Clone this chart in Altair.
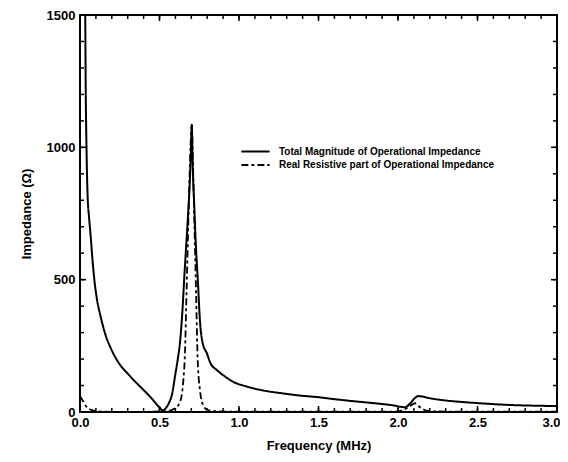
import altair as alt
import pandas as pd

# Total magnitude of operational impedance (solid)
freq_total = [0.030, 0.033, 0.036, 0.040, 0.044, 0.048, 0.057, 0.067, 0.080, 0.092, 0.105,
              0.13, 0.157, 0.199, 0.25, 0.30, 0.35, 0.40, 0.45, 0.50, 0.522,
              0.54, 0.56, 0.58, 0.597, 0.615, 0.63, 0.645, 0.656, 0.668, 0.68,
              0.692, 0.698, 0.703, 0.707, 0.711, 0.718, 0.725, 0.732, 0.74, 0.755,
              0.772, 0.797, 0.82, 0.86, 0.91, 0.964, 1.05, 1.174, 1.28, 1.384,
              1.5, 1.593, 1.70, 1.803, 1.887, 1.97, 2.044, 2.08, 2.105, 2.128,
              2.2, 2.306, 2.4, 2.516, 2.62, 2.725, 2.85, 2.956, 3.0]
mag_total = [1750, 1500, 1220, 1030, 900, 815, 735, 665, 565, 490, 432,
             360, 298, 234, 180, 145, 113, 83, 52, 17, 6,
             15, 35, 70, 133, 200, 270, 390, 510, 630, 750,
             889, 990, 1085, 990, 889, 790, 680, 590, 510, 340,
             259, 223, 185, 159, 135, 114, 96, 79, 70, 62,
             56, 49, 42, 36, 31, 25, 18, 35, 52, 60,
             52, 43, 38, 33, 29, 26, 24, 23, 23]

# Real resistive part of operational impedance (dash-dot)
freq_real = [0.0, 0.02, 0.04, 0.07, 0.10, 0.15, 0.3, 0.45, 0.55, 0.60,
             0.63, 0.65, 0.66, 0.67, 0.685, 0.695, 0.703, 0.71, 0.72, 0.73,
             0.74, 0.755, 0.775, 0.80, 0.85, 1.0, 1.5, 1.9, 2.0, 2.033,
             2.07, 2.107, 2.13, 2.149, 2.18, 2.25, 2.5, 3.0]
mag_real = [60, 40, 20, 8, 3, 1, 0, 1, 4, 15,
            40, 120, 220, 450, 800, 1000, 1085, 950, 700, 450,
            200, 80, 25, 8, 3, 1, 1, 1, 2, 8,
            20, 33, 22, 14, 5, 2, 1, 1]

series_names = ["Total Magnitude of Operational Impedance",
                "Real Resistive part of Operational Impedance"]

x_major = [0.0, 0.5, 1.0, 1.5, 2.0, 2.5, 3.0]
x_minor = [round(i * 0.1, 1) for i in range(31)]
y_major = [0, 500, 1000, 1500]
y_minor = [i * 100 for i in range(16)]

W, H = 477, 397
X0, X1, Y0, Y1 = 0.0, 3.0, 0.0, 1500.0

df_total = pd.DataFrame({"f": freq_total, "z": mag_total, "series": series_names[0]})
df_real = pd.DataFrame({"f": freq_real, "z": mag_real, "series": series_names[1]})

# inward tick marks on all four sides, built from the tick value lists
px_x = (X1 - X0) / W
px_y = (Y1 - Y0) / H
rows = []
tid = 0
for vals, length in ((x_minor, 4), (x_major, 6)):
    for v in vals:
        for a, b in ((Y0, Y0 + length * px_y), (Y1, Y1 - length * px_y)):
            rows += [{"id": tid, "f": v, "z": a}, {"id": tid, "f": v, "z": b}]
            tid += 1
for vals, length in ((y_minor, 4), (y_major, 6)):
    for v in vals:
        for a, b in ((X0, X0 + length * px_x), (X1, X1 - length * px_x)):
            rows += [{"id": tid, "f": a, "z": v}, {"id": tid, "f": b, "z": v}]
            tid += 1
df_ticks = pd.DataFrame(rows)

FONT = "Liberation Sans"
xscale = alt.Scale(domain=[X0, X1], nice=False, zero=False)
yscale = alt.Scale(domain=[Y0, Y1], nice=False)

x_axis = alt.Axis(values=x_major, format=".1f", ticks=False, tickSize=0, domain=False,
                  grid=False, labelFont=FONT, labelFontSize=13, labelFontWeight="bold",
                  labelColor="black", labelPadding=4, labelFlush=False,
                  labelOffset={"expr": "datum.value == 3 ? -6 : 0"},
                  title="Frequency (MHz)", titleFont=FONT, titleFontSize=13,
                  titleFontWeight="bold", titleColor="black", titlePadding=10)
y_axis = alt.Axis(values=y_major, format="d", ticks=False, tickSize=0, domain=False,
                  grid=False, labelFont=FONT, labelFontSize=13, labelFontWeight="bold",
                  labelColor="black", labelPadding=5, title="Impedance (Ω)",
                  titleFont=FONT, titleFontSize=13, titleFontWeight="bold",
                  titleColor="black", titlePadding=13)


def make_legend(y):
    return alt.Legend(title=None, orient="none", legendX=160, legendY=y,
                      symbolType="stroke", symbolSize=800, symbolStrokeWidth=2,
                      symbolStrokeColor="black", labelFont=FONT, labelFontSize=10,
                      labelFontWeight="bold", labelColor="black", labelOffset=8,
                      labelLimit=0, padding=0)


solid = alt.Chart(df_total).mark_line(color="black", strokeWidth=2, clip=True,
                                      interpolate="monotone").encode(
    x=alt.X("f:Q", scale=xscale, axis=x_axis),
    y=alt.Y("z:Q", scale=yscale, axis=y_axis),
    strokeDash=alt.StrokeDash("series:N",
                              scale=alt.Scale(domain=[series_names[0]], range=[[1, 0]]),
                              legend=make_legend(121)),
)

dashed = alt.Chart(df_real).mark_line(color="black", strokeWidth=1.8, clip=True,
                                      interpolate="monotone").encode(
    x=alt.X("f:Q", scale=xscale, axis=None),
    y=alt.Y("z:Q", scale=yscale, axis=None),
    strokeDash=alt.StrokeDash("series:N",
                              scale=alt.Scale(domain=[series_names[1]], range=[[7, 3, 3, 3]]),
                              legend=make_legend(134.5)),
)

ticks = alt.Chart(df_ticks).mark_line(color="black", strokeWidth=1.5).encode(
    x=alt.X("f:Q", scale=xscale, axis=None),
    y=alt.Y("z:Q", scale=yscale, axis=None),
    detail="id:N",
)

chart = alt.layer(solid, dashed, ticks).resolve_scale(
    strokeDash="independent"
).resolve_axis(
    x="independent", y="independent"
).properties(
    width=W, height=H,
    autosize=alt.AutoSizeParams(type="none"),
    padding={"left": 72, "top": 7, "right": 3, "bottom": 42},
    background="white",
).configure_view(stroke="black", strokeWidth=2)

chart.save("out.html", embed_options={"renderer": "svg", "actions": False})
